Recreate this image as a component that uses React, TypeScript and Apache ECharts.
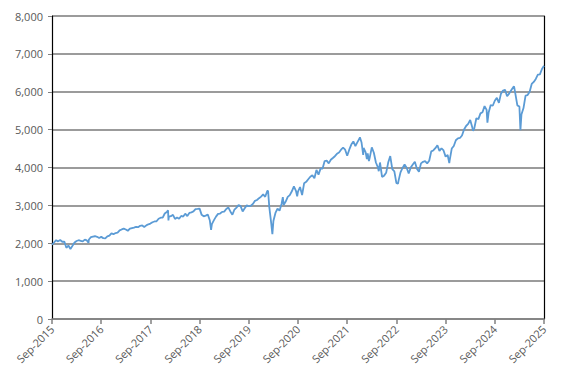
import React, { useEffect, useRef } from "react";
import * as echarts from "echarts";

// Months elapsed since end of Sep 2015
const monthOffsets: number[] = [
  0, 0.5, 1, 1.5, 2, 2.5, 3, 3.5, 4, 4.5, 5, 5.5, 6, 6.5, 7, 7.5, 8, 8.5, 8.9, 9, 9.5, 10, 10.5, 11, 11.5,
  12, 12.5, 13, 13.5, 14, 14.5, 15, 15.5, 16, 16.5, 17, 17.5, 18, 18.5, 19, 19.5, 20, 20.5, 21, 21.5, 22, 22.5, 23, 23.5,
  24, 24.5, 25, 25.5, 26, 26.5, 27, 27.5, 28, 28.3, 28.4, 28.5, 29, 29.5, 30, 30.5, 31, 31.5, 32, 32.5, 33, 33.5, 34, 34.5, 35, 35.5,
  36, 36.5, 37, 37.5, 38, 38.5, 38.8, 39, 39.5, 40, 40.5, 41, 41.5, 42, 42.5, 43, 43.5, 44, 44.5, 45, 45.5, 46, 46.5, 47, 47.5,
  48, 48.5, 49, 49.5, 50, 50.5, 51, 51.5, 52, 52.5, 52.7, 53, 53.5, 53.75, 54, 54.5, 55, 55.5, 56, 56.3, 56.5, 57, 57.5, 58, 58.5, 59, 59.5, 59.8,
  60, 60.5, 61, 61.5, 62, 62.5, 63, 63.5, 64, 64.5, 65, 65.5, 66, 66.5, 67, 67.5, 68, 68.5, 69, 69.5, 70, 70.5, 71, 71.5,
  72, 72.5, 73, 73.5, 74, 74.5, 75, 75.1, 75.5, 75.9, 76, 76.5, 76.8, 77, 77.3, 77.5, 78, 78.5, 79, 79.5, 79.7, 80, 80.5, 81, 81.5, 82, 82.5, 83, 83.5,
  84, 84.4, 84.5, 85, 85.5, 86, 86.5, 87, 87.5, 88, 88.5, 89, 89.5, 90, 90.5, 91, 91.5, 92, 92.5, 93, 93.5, 94, 94.5, 95, 95.5,
  96, 96.5, 96.9, 97, 97.5, 98, 98.5, 99, 99.5, 100, 100.5, 101, 101.5, 102, 102.5, 102.7, 103, 103.5, 104, 104.5, 105, 105.5, 106, 106.2, 106.5, 107, 107.5,
  108, 108.5, 109, 109.5, 110, 110.5, 111, 111.5, 112, 112.5, 112.7, 113, 113.5, 114, 114.25, 114.5, 115, 115.5, 116, 116.5, 117, 117.5, 118, 118.5, 119, 119.5, 120,
];

// S&P 500 index level
const indexValues: number[] = [
  1960, 2020, 2080, 2050, 2085, 2040, 2044, 1880, 1940, 1850, 1932, 2020, 2060, 2080, 2065, 2050, 2097, 2075, 2010, 2099, 2160, 2174, 2185, 2171, 2140,
  2168, 2135, 2126, 2180, 2199, 2260, 2239, 2270, 2279, 2340, 2364, 2385, 2363, 2330, 2384, 2400, 2412, 2435, 2423, 2460, 2470, 2430, 2472, 2500,
  2519, 2555, 2575, 2580, 2648, 2675, 2674, 2785, 2824, 2873, 2600, 2700, 2714, 2750, 2641, 2680, 2648, 2720, 2705, 2780, 2718, 2800, 2816, 2840, 2902, 2905,
  2914, 2750, 2711, 2730, 2760, 2600, 2351, 2507, 2610, 2704, 2775, 2784, 2830, 2834, 2905, 2946, 2840, 2752, 2890, 2942, 3010, 2980, 2840, 2926, 3000,
  2977, 2990, 3038, 3120, 3141, 3190, 3231, 3290, 3226, 3380, 3386, 2954, 2500, 2237, 2585, 2800, 2912, 2860, 3044, 3220, 3010, 3100, 3225, 3271, 3372, 3500, 3385, 3240,
  3363, 3485, 3270, 3585, 3622, 3690, 3756, 3795, 3714, 3935, 3811, 3970, 3973, 4170, 4181, 4110, 4204, 4250, 4298, 4360, 4395, 4470, 4523, 4470,
  4308, 4470, 4605, 4690, 4567, 4670, 4766, 4796, 4660, 4330, 4516, 4400, 4225, 4374, 4170, 4260, 4530, 4390, 4132, 4000, 3901, 4132, 3750, 3785, 3860, 4130, 4300, 3955, 3900,
  3586, 3577, 3640, 3872, 3990, 4080, 3995, 3840, 3999, 4077, 4150, 3970, 3890, 4109, 4150, 4169, 4110, 4180, 4425, 4450, 4510, 4589, 4440, 4508, 4450,
  4288, 4330, 4117, 4194, 4500, 4568, 4720, 4770, 4780, 4846, 5005, 5096, 5150, 5254, 5060, 4967, 5036, 5300, 5278, 5430, 5460, 5620, 5522, 5186, 5455, 5648, 5630,
  5762, 5840, 5705, 5950, 6032, 6050, 5882, 5950, 6040, 6120, 6144, 5955, 5640, 5612, 4983, 5400, 5569, 5900, 5912, 6000, 6205, 6260, 6339, 6450, 6460, 6600, 6688,
];

const startYear = 2015;
const tickMonthStep = 12;
const yMax = 8000;
const yStep = 1000;

export default function App() {
  const ref = useRef<HTMLDivElement>(null);
  useEffect(() => {
    if (!ref.current) return;
    const chart = echarts.init(ref.current, undefined, { renderer: "svg" });
    const data = monthOffsets.map((m, i) => [m, indexValues[i]]);
    chart.setOption({
      animation: false,
      grid: { left: 52, right: 28, top: 16, bottom: 65, containLabel: false },
      xAxis: {
        type: "value",
        min: 0,
        max: 120,
        interval: tickMonthStep,
        axisLine: { show: true, onZero: false, lineStyle: { color: "#808080", width: 1.5 } },
        axisTick: { show: true, length: 5, lineStyle: { color: "#808080", width: 1.5 } },
        splitLine: { show: false },
        axisLabel: {
          rotate: 45,
          margin: 8,
          color: "#595959",
          fontSize: 11,
          fontFamily: "Open Sans",
          formatter: (v: number) => "Sep-" + (startYear + Math.round(v / 12)),
        },
      },
      yAxis: [
        {
          type: "value",
          min: 0,
          max: yMax,
          interval: yStep,
          axisLine: { show: true, lineStyle: { color: "#000", width: 1.2 } },
          axisTick: { show: true, length: 4, lineStyle: { color: "#808080" } },
          splitLine: { show: true, lineStyle: { color: "#7a7a7a", width: 1.5 } },
          axisLabel: {
            margin: 9,
            color: "#595959",
            fontSize: 11,
            fontFamily: "Open Sans",
            formatter: (v: number) => v.toLocaleString("en-US"),
          },
        },
        {
          type: "value",
          position: "right",
          min: 0,
          max: yMax,
          interval: yStep,
          axisLine: { show: true, lineStyle: { color: "#000", width: 1.2 } },
          axisTick: { show: false },
          axisLabel: { show: false },
          splitLine: { show: false },
        },
      ],
      series: [
        {
          type: "line",
          data,
          showSymbol: false,
          symbol: "none",
          lineStyle: { color: "#5B9BD5", width: 1.8 },
          z: 5,
        },
      ],
    });
    return () => chart.dispose();
  }, []);
  return (
    <div
      ref={ref}
      style={{ position: "fixed", left: 0, top: 0, width: 572, height: 384, background: "#fff" }}
    />
  );
}
